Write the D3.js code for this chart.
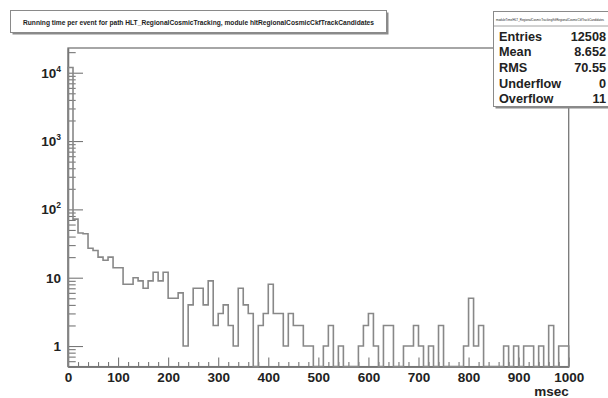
<!DOCTYPE html>
<html>
<head>
<meta charset="utf-8">
<script src="https://cdn.jsdelivr.net/npm/d3@7"></script>
<style>
  body { margin: 0; background: #fff; }
  svg { display: block; font-family: "Liberation Sans", Arial, sans-serif; font-weight: bold; }
</style>
</head>
<body>
<div id="chart"></div>
<script>
// histogram: running time per event, 100 bins of 10 msec
var binWidth = 10;
var counts = [
  11900, 72, 45, 44, 27, 25, 20, 18, 20, 14,
  14, 8, 8, 10, 9, 7, 9, 12, 9, 12,
  5, 5, 6, 1, 4, 7, 7, 4, 9, 2,
  3, 4, 2, 1, 7, 4, 3, 0, 2, 3,
  8, 3, 3, 1, 3, 2, 2, 1, 1, 0,
  0, 1, 2, 0, 1, 0, 0, 0, 1, 2,
  3, 1, 0, 2, 2, 0, 0, 1, 1, 2,
  1, 0, 1, 0, 2, 0, 0, 0, 0, 1,
  5, 1, 2, 0, 0, 0, 0, 1, 0, 1,
  0, 1, 1, 0, 1, 0, 2, 0, 1, 1
];
var xMajorTicks = [0, 100, 200, 300, 400, 500, 600, 700, 800, 900, 1000];
var yMajorTicks = [1, 10, 100, 1000, 10000];
var titleText = "Running time per event for path HLT_RegionalCosmicTracking, module hltRegionalCosmicCkfTrackCandidates";
var statsName = "moduleTime/HLT_RegionalCosmicTracking/hltRegionalCosmicCkfTrackCandidates";
var statsLabels = ["Entries", "Mean", "RMS", "Underflow", "Overflow"];
var statsValues = ["12508", "8.652", "70.55", "0", "11"];

var W = 608, H = 398;
var frame = {left: 68, top: 48, right: 568.7, bottom: 366.6};
var ymin = 0.5, ymax = 23000;
var lineCol = "#777", histCol = "#888", textCol = "#222";

var svg = d3.select("#chart").append("svg").attr("width", W).attr("height", H);

var x = d3.scaleLinear().domain([0, 1000]).range([frame.left, frame.right]);
var y = d3.scaleLog().domain([ymin, ymax]).range([frame.bottom, frame.top]);

// frame
svg.append("rect")
  .attr("x", frame.left).attr("y", frame.top)
  .attr("width", frame.right - frame.left).attr("height", frame.bottom - frame.top)
  .attr("fill", "none").attr("stroke", lineCol).attr("stroke-width", 1.3);

// y minor ticks
var yMinor = y.ticks().filter(function(d){ return yMajorTicks.indexOf(d) < 0; });
var gyMinor = svg.append("g").attr("transform", "translate(" + frame.left + ",0)")
  .call(d3.axisLeft(y).tickValues(yMinor).tickSize(-7.7).tickSizeOuter(0).tickFormat(""));

// y major ticks
var gy = svg.append("g").attr("transform", "translate(" + frame.left + ",0)")
  .call(d3.axisLeft(y).tickValues(yMajorTicks).tickSize(-15).tickSizeOuter(0).tickPadding(7).tickFormat(""));

gy.selectAll(".tick text").each(function(d){
  var t = d3.select(this);
  var e = Math.round(Math.log10(d));
  if (e < 2) {
    t.text(String(d));
  } else {
    t.append("tspan").text("10");
    t.append("tspan").attr("dy", "-6").attr("font-size", "8.5px").text(String(e));
  }
});

// x ticks
var xMinor = d3.range(0, 1000, 20).filter(function(d){ return d % 100 !== 0; });
var gxMinor = svg.append("g").attr("transform", "translate(0," + frame.bottom + ")")
  .call(d3.axisBottom(x).tickValues(xMinor).tickSize(-4.5).tickSizeOuter(0).tickFormat(""));
var gx = svg.append("g").attr("transform", "translate(0," + frame.bottom + ")")
  .call(d3.axisBottom(x).tickValues(xMajorTicks).tickSize(-9).tickSizeOuter(0).tickPadding(5.5)
    .tickFormat(d3.format("d")));

[gyMinor, gy, gxMinor, gx].forEach(function(g){
  g.attr("font-family", null).attr("font-size", null);
  g.selectAll("path.domain").attr("stroke", lineCol).attr("stroke-width", 1.3);
  g.selectAll(".tick line").attr("stroke", lineCol).attr("stroke-width", 1.1);
  g.selectAll(".tick text").attr("fill", textCol).style("font-size", "13.5px");
});

svg.append("text")
  .attr("x", frame.right).attr("y", 396)
  .attr("text-anchor", "end").attr("fill", textCol)
  .style("font-size", "13.5px").text("msec");

// histogram outline
var pts = [{e: 0, v: ymin}];
counts.forEach(function(c, i){ pts.push({e: i * binWidth, v: c}); });
pts.push({e: counts.length * binWidth, v: counts[counts.length - 1]});
pts.push({e: counts.length * binWidth, v: ymin});

var line = d3.line()
  .x(function(d){ return x(d.e); })
  .y(function(d){ return y(Math.max(d.v, ymin)); })
  .curve(d3.curveStepAfter);

svg.append("path").datum(pts)
  .attr("d", line)
  .attr("fill", "none").attr("stroke", histCol).attr("stroke-width", 1.6);

// pave helper (ROOT style box with shadow)
function pave(px, py, pw, ph){
  svg.append("rect").attr("x", px + 2).attr("y", py + 2).attr("width", pw).attr("height", ph)
    .attr("fill", "#8a8a8a");
  svg.append("rect").attr("x", px).attr("y", py).attr("width", pw).attr("height", ph)
    .attr("fill", "#fff").attr("stroke", "#8a8a8a").attr("stroke-width", 1);
}

// title
pave(10.5, 10.5, 376, 22);
svg.append("text")
  .attr("x", 198.5).attr("y", 24.5).attr("text-anchor", "middle").attr("fill", textCol)
  .attr("textLength", 351).attr("lengthAdjust", "spacingAndGlyphs")
  .style("font-size", "7.5px").text(titleText);

// stats box
pave(493.5, 11.5, 130, 95);
svg.append("line").attr("x1", 493.5).attr("x2", 623).attr("y1", 26).attr("y2", 26)
  .attr("stroke", "#8a8a8a").attr("stroke-width", 0.8);
svg.append("text")
  .attr("x", 496).attr("y", 21).attr("fill", textCol)
  .attr("textLength", 108).attr("lengthAdjust", "spacingAndGlyphs")
  .style("font-size", "3px").style("font-weight", "normal").text(statsName);

statsLabels.forEach(function(lbl, i){
  var by = 40.5 + 15.7 * i;
  svg.append("text").attr("x", 499).attr("y", by).attr("fill", textCol)
    .style("font-size", "12.7px").text(lbl);
  svg.append("text").attr("x", 606).attr("y", by).attr("text-anchor", "end").attr("fill", textCol)
    .style("font-size", "12.7px").text(statsValues[i]);
});
</script>
</body>
</html>
